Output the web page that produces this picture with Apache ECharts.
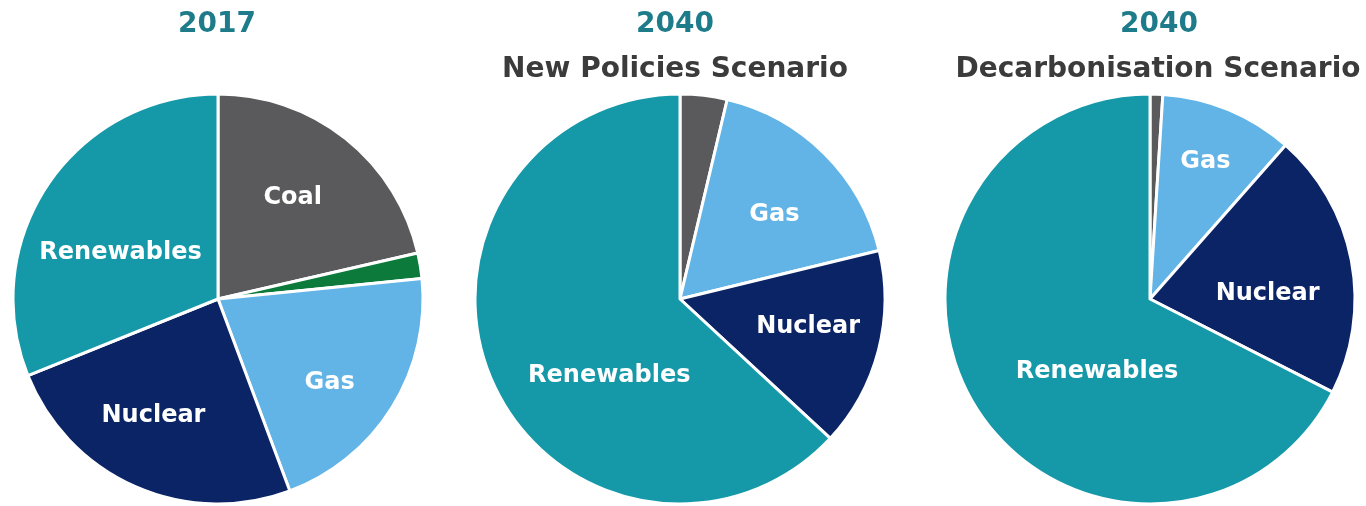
<!DOCTYPE html>
<html>
<head>
<meta charset="utf-8">
<script src="https://cdn.jsdelivr.net/npm/echarts@6/dist/echarts.min.js"></script>
<style>
  html, body { margin: 0; padding: 0; background: #ffffff; }
  #chart { width: 1366px; height: 506px; }
</style>
</head>
<body>
<div id="chart"></div>
<script>
// Power generation mix, shares in percent
const fuels = ['Coal', 'Oil', 'Gas', 'Nuclear', 'Renewables'];
const share2017 = [21.4, 2.0, 20.9, 24.6, 31.1];
const shareNewPolicies2040 = [3.7, 0, 17.5, 15.7, 63.1];
const shareDecarbonisation2040 = [1.0, 0, 10.5, 21.0, 67.5];

const yearTitles = ['2017', '2040', '2040'];
const scenarioTitles = ['', 'New Policies Scenario', 'Decarbonisation Scenario'];

// Slices too thin to carry a name stay unlabelled
const unlabelled = [['Oil'], ['Coal', 'Oil'], ['Coal', 'Oil']];

const fuelColors = {
  Coal: '#5a5a5c',
  Oil: '#0b7a3b',
  Gas: '#62b3e6',
  Nuclear: '#0b2466',
  Renewables: '#1599a9'
};

// Nudges that move each inside label away from the slice's mid-radius point
const labelNudge = [
  { Coal: [9, -19], Gas: [22, 28], Nuclear: [-22, 20], Renewables: [-10, 13] },
  { Gas: [20, -9], Nuclear: [26, 1], Renewables: [26, 35] },
  { Gas: [15, -40], Nuclear: [14, 15], Renewables: [37, 18] }
];

const centersX = [218, 680, 1150];
const yearTitleX = [212, 670, 1154];
const scenarioTitleX = [0, 670, 1153];
const centerY = 299;
const pieRadius = 205;

const allShares = [share2017, shareNewPolicies2040, shareDecarbonisation2040];

const titles = [];
yearTitles.forEach((t, i) => {
  titles.push({
    text: t, left: yearTitleX[i], top: 6, textAlign: 'center',
    textStyle: { color: '#1d7b8a', fontFamily: 'DejaVu Sans', fontWeight: 'bold', fontSize: 28 }
  });
  if (scenarioTitles[i]) {
    titles.push({
      text: scenarioTitles[i], left: scenarioTitleX[i], top: 51, textAlign: 'center',
      textStyle: { color: '#3b3b3b', fontFamily: 'DejaVu Sans', fontWeight: 'bold', fontSize: 28 }
    });
  }
});

const series = allShares.map((values, si) => {
  const data = fuels.map((f, k) => ({
    name: f,
    value: values[k],
    itemStyle: { color: fuelColors[f] },
    label: { show: unlabelled[si].indexOf(f) < 0 }
  })).filter(d => d.value > 0);
  return {
    type: 'pie',
    center: [centersX[si], centerY],
    radius: [0, pieRadius],
    startAngle: 90,
    clockwise: true,
    silent: true,
    animation: false,
    avoidLabelOverlap: false,
    itemStyle: { borderColor: '#ffffff', borderWidth: 3 },
    label: {
      show: true,
      position: 'inside',
      formatter: '{b}',
      color: '#ffffff',
      fontFamily: 'DejaVu Sans',
      fontWeight: 'bold',
      fontSize: 24
    },
    labelLine: { show: false },
    labelLayout: function (p) {
      const n = labelNudge[si][data[p.dataIndex].name];
      return n ? { dx: n[0], dy: n[1] } : {};
    },
    data: data
  };
});

const chart = echarts.init(document.getElementById('chart'), null, { renderer: 'canvas' });
chart.setOption({
  backgroundColor: '#ffffff',
  title: titles,
  series: series
});
</script>
</body>
</html>
